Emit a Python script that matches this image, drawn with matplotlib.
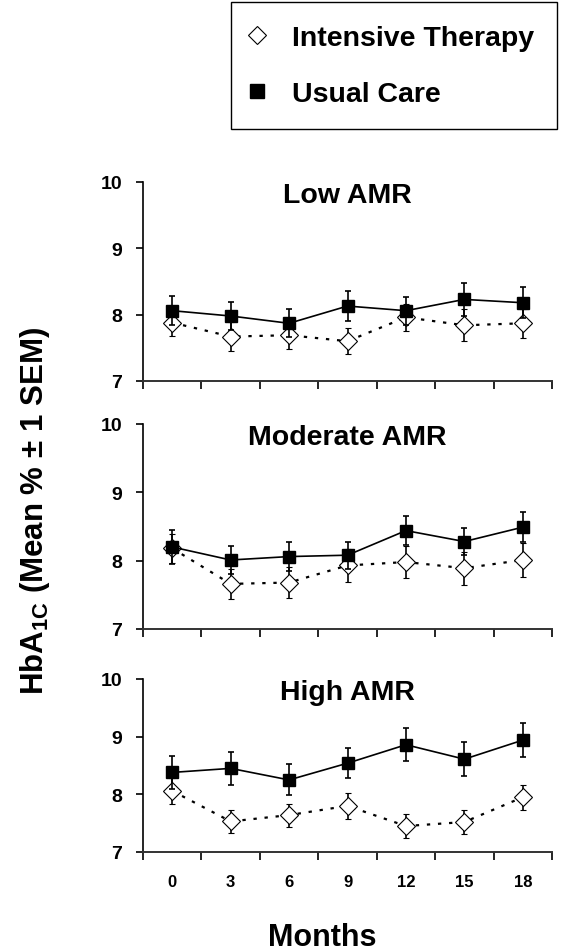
import matplotlib
matplotlib.use("Agg")
import matplotlib.pyplot as plt
from matplotlib.lines import Line2D
import numpy as np

months = [0, 3, 6, 9, 12, 15, 18]
panels = ["Low AMR", "Moderate AMR", "High AMR"]

# HbA1c means and SEM
low_usual = [8.06, 7.98, 7.87, 8.13, 8.06, 8.23, 8.18]
low_usual_sem = [0.22, 0.21, 0.21, 0.22, 0.21, 0.25, 0.23]
low_int = [7.88, 7.67, 7.69, 7.60, 7.96, 7.84, 7.87]
low_int_sem = [0.20, 0.22, 0.21, 0.20, 0.20, 0.24, 0.22]

mod_usual = [8.20, 8.01, 8.06, 8.08, 8.44, 8.28, 8.49]
mod_usual_sem = [0.25, 0.20, 0.21, 0.20, 0.21, 0.20, 0.22]
mod_int = [8.18, 7.66, 7.68, 7.93, 7.98, 7.89, 8.01]
mod_int_sem = [0.21, 0.22, 0.23, 0.24, 0.23, 0.24, 0.25]

high_usual = [8.38, 8.45, 8.25, 8.54, 8.86, 8.61, 8.94]
high_usual_sem = [0.29, 0.29, 0.27, 0.26, 0.29, 0.29, 0.30]
high_int = [8.06, 7.53, 7.64, 7.80, 7.45, 7.52, 7.95]
high_int_sem = [0.22, 0.20, 0.20, 0.22, 0.21, 0.21, 0.22]

usual = [low_usual, mod_usual, high_usual]
usual_sem = [low_usual_sem, mod_usual_sem, high_usual_sem]
inten = [low_int, mod_int, high_int]
inten_sem = [low_int_sem, mod_int_sem, high_int_sem]

plt.rcParams['font.family'] = ['Liberation Sans', 'DejaVu Sans']
plt.rcParams['font.weight'] = 'bold'

fig = plt.figure(figsize=(5.62, 9.53), dpi=100)
W, H = 562, 953
left, right = 143, 552
boxes = [(183, 382), (425, 630), (680, 853)]  # top, bottom in pixels

x = np.arange(len(months))
axes = []
for i, (top, bot) in enumerate(boxes):
    ax = fig.add_axes([left / W, 1 - bot / H, (right - left) / W, (bot - top) / H])
    axes.append(ax)
    ax.errorbar(x, inten[i], yerr=inten_sem[i], color='black', ls=(0, (1.5, 3.5)), lw=1.6,
                marker='D', ms=9, mfc='white', mec='black', mew=0.8,
                ecolor='black', elinewidth=1.2, capsize=2.5, capthick=1.2, zorder=2)
    ax.errorbar(x, usual[i], yerr=usual_sem[i], color='black', ls='-', lw=1.2,
                marker='s', ms=9, mfc='black', mec='black',
                ecolor='black', elinewidth=1.2, capsize=2.5, capthick=1.2, zorder=3)
    ax.set_xlim(-0.5, len(months) - 0.5)
    ax.set_ylim(7, 10)
    ax.set_yticks([7, 8, 9, 10])
    ax.set_xticks(np.arange(-0.5, len(months), 1.0))
    ax.set_xticklabels([])
    ax.set_xticks(x, minor=True)
    if i == 2:
        ax.set_xticklabels([str(m) for m in months], minor=True)
    ax.tick_params(axis='x', which='major', direction='out', length=6, width=1.2)
    ax.tick_params(axis='x', which='minor', length=0, pad=16, labelsize=12)
    ax.tick_params(axis='y', direction='out', length=5, width=1.2, pad=10, labelsize=14)
    for lab in ax.get_yticklabels() + ax.get_xticklabels(minor=True):
        lab.set_fontweight('bold')
    for s in ['top', 'right']:
        ax.spines[s].set_visible(False)
    ax.spines['left'].set_linewidth(1.2)
    ax.spines['bottom'].set_linewidth(1.4)
    ax.spines['bottom'].set_color('#333333')
    ax.annotate(panels[i], xy=(0.5, 1), xycoords='axes fraction', xytext=(0, -13),
                textcoords='offset pixels', ha='center', va='center',
                fontsize=20.5, fontweight='bold')

h1 = Line2D([], [], ls='none', marker='D', ms=9, mfc='white', mec='black', mew=0.8)
h2 = Line2D([], [], ls='none', marker='s', ms=10, mfc='black', mec='black')
leg = fig.legend([h1, h2], ["Intensive Therapy", "Usual Care"],
                 loc='upper left', bbox_to_anchor=(231 / W, 1 - 3 / H), borderaxespad=0,
                 frameon=True, fancybox=False, edgecolor='black', framealpha=1,
                 prop={'size': 20.5, 'weight': 'bold'}, borderpad=0.8,
                 labelspacing=1.05, handlelength=0.2, handletextpad=1.15, numpoints=1)
leg.get_frame().set_linewidth(1.0)

fig.text(35 / W, 1 - 511 / H, r"HbA$_{\mathregular{1C}}$ (Mean % ± 1 SEM)",
         rotation=90, ha='center', va='center', fontsize=22.5, fontweight='bold')
fig.text(322 / W, 1 - 946 / H, "Months", ha='center', va='baseline',
         fontsize=22, fontweight='bold')

fig.savefig("out.png", dpi=100)
